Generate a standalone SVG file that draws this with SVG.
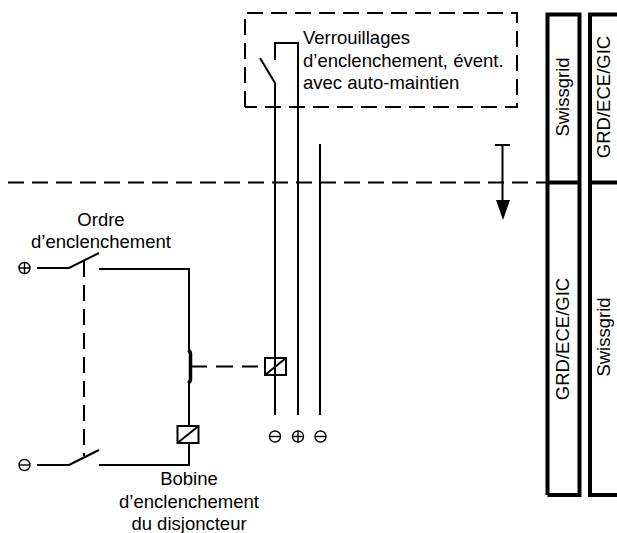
<svg xmlns="http://www.w3.org/2000/svg" width="617" height="533" viewBox="0 0 617 533">
<style>
.w{fill:none;stroke:#000;stroke-width:2}
.d{fill:none;stroke:#000;stroke-width:2;stroke-dasharray:16 8}
.b{fill:none;stroke:#000;stroke-width:4}
.s{fill:none;stroke:#000;stroke-width:1.4}
text{font-family:"Liberation Sans",Arial,sans-serif;font-size:18.500px;fill:#000}
.m{text-anchor:middle}
</style>
<rect width="617" height="533" fill="#fff"/>
<g id="connectors">
<path class="d" d="M245 107V13H517V107H245"/>
<path class="d" d="M8 182.500H546"/>
<path class="w" d="M275 60V43H298V415M260 58L275 83V415M320 144V415"/>
<path class="w" d="M495 145H510M502.500 145V202"/>
<path d="M496 200H510L503 220Z"/>
<path class="w" d="M37 268H69L99 253M99 269H189V350M189 383V426M189 443V465H99M37 465H69L99 450"/>
<path class="d" d="M84 261V456"/>
<path d="M188 350Q190.500 351 190.500 354V379Q190.500 382 188 383" fill="none" stroke="#000" stroke-width="3.500"/>
<path class="w" d="M192 366.500H207"/>
<path class="w" d="M216 366.500H233M242 366.500H258"/>
</g>
<g id="coil-relay"><rect class="w" x="265" y="358" width="21" height="17"/><path class="w" d="M265 375L286 358"/></g>
<g id="coil-breaker"><rect class="w" x="177.500" y="426" width="21" height="17"/><path class="w" d="M177.500 443L198.500 426"/></g>
<g id="term-plus-left"><circle class="s" cx="24.500" cy="268" r="5.500"/><path class="s" d="M19 268H30M24.500 262.500V273.500"/></g>
<g id="term-minus-left"><circle class="s" cx="24.500" cy="465" r="5.500"/><path class="s" d="M19 465H30"/></g>
<g id="term-minus-1"><circle class="s" cx="275" cy="436.500" r="5.500"/><path class="s" d="M269.500 436.500H280.500"/></g>
<g id="term-plus"><circle class="s" cx="298" cy="436.500" r="5.500"/><path class="s" d="M292.500 436.500H303.500M298 431V442"/></g>
<g id="term-minus-2"><circle class="s" cx="320.500" cy="436.500" r="5.500"/><path class="s" d="M315 436.500H326"/></g>
<g id="col-left"><path class="b" d="M547.500 495V14.500H579.500V495H547.500M546 182.500H581"/></g>
<g id="col-right"><path class="b" d="M619 14.500H590V495H619M588 182.500H617"/></g>
<g id="labels">
<text x="303" y="44">Verrouillages</text>
<text x="303" y="67">d’enclenchement, évent.</text>
<text x="303" y="89">avec auto-maintien</text>
<text class="m" x="101" y="226">Ordre</text>
<text class="m" x="101" y="248">d’enclenchement</text>
<text class="m" x="189" y="485">Bobine</text>
<text class="m" x="189" y="508">d’enclenchement</text>
<text class="m" x="189" y="530">du disjoncteur</text>
<text class="m" transform="translate(569 97) rotate(-90)">Swissgrid</text>
<text class="m" transform="translate(610 97) rotate(-90)">GRD/ECE/GIC</text>
<text class="m" transform="translate(569 339) rotate(-90)">GRD/ECE/GIC</text>
<text class="m" transform="translate(610 337) rotate(-90)">Swissgrid</text>
</g>
</svg>
